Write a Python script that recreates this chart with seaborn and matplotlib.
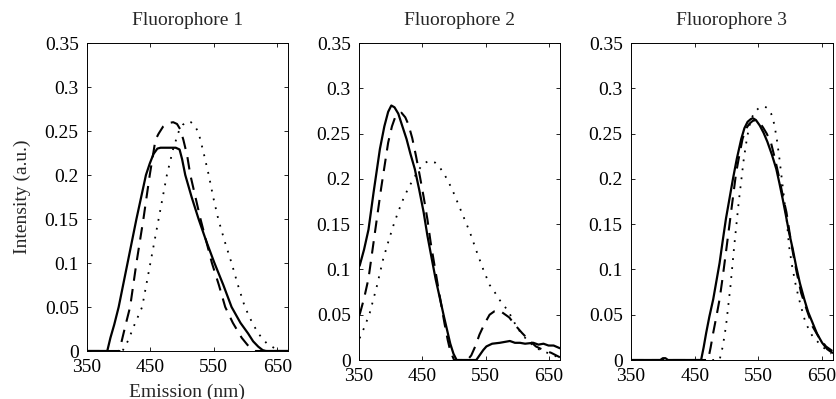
import numpy as np
import matplotlib
matplotlib.use("Agg")
import matplotlib.pyplot as plt
import pandas as pd
import seaborn as sns
from matplotlib.ticker import FuncFormatter

# values (wavelength in nm, intensity in a.u.)
f1_solid_x = [350, 382, 387, 393, 400, 414, 428, 443, 449, 455, 461, 466, 490, 496, 500, 505,
              515, 526, 538, 551, 565, 578, 592, 604, 612, 620, 627, 632, 667]
f1_solid_y = [0, 0, 0.015, 0.03, 0.05, 0.1, 0.15, 0.2, 0.213, 0.224, 0.23, 0.231, 0.231, 0.229,
              0.218, 0.2, 0.175, 0.15, 0.125, 0.1, 0.075, 0.05, 0.032, 0.02, 0.011, 0.005, 0.001, 0, 0]
f1_dash_x = [350, 401, 405, 411, 418, 428, 439, 449, 458, 463, 470, 478, 486, 492, 497, 502,
             508, 513, 521, 529, 538, 547, 558, 568, 580, 594, 603, 610, 615, 667]
f1_dash_y = [0, 0, 0.012, 0.03, 0.05, 0.1, 0.15, 0.2, 0.24, 0.247, 0.255, 0.259, 0.26, 0.258,
             0.252, 0.24, 0.222, 0.2, 0.175, 0.15, 0.125, 0.1, 0.075, 0.05, 0.032, 0.015, 0.007, 0.002, 0, 0]
f1_dot_x = [350, 406, 415, 425, 437, 450, 463, 476, 486, 495, 501, 508, 514, 520, 526, 534,
            542, 549, 557, 567, 578, 588, 599, 610, 620, 633, 646, 651, 667]
f1_dot_y = [0, 0, 0.012, 0.03, 0.05, 0.1, 0.15, 0.2, 0.23, 0.25, 0.257, 0.261, 0.26, 0.256, 0.248,
            0.225, 0.2, 0.175, 0.15, 0.125, 0.1, 0.075, 0.05, 0.033, 0.02, 0.009, 0.003, 0, 0]

f2_solid_x = [351, 358, 365, 373, 383, 390, 396, 401, 406, 412, 418, 425, 431, 438, 445, 452,
              458, 465, 471, 478, 484, 489, 494, 499, 504, 535, 541, 546, 551, 560, 572, 580,
              588, 596, 604, 612, 625, 633, 641, 649, 657, 667]
f2_solid_y = [0.104, 0.122, 0.144, 0.185, 0.233, 0.258, 0.274, 0.281, 0.279, 0.272, 0.259, 0.244,
              0.228, 0.211, 0.188, 0.163, 0.137, 0.111, 0.089, 0.067, 0.048, 0.033, 0.018, 0.007, 0,
              0, 0.006, 0.011, 0.015, 0.018, 0.019, 0.02, 0.021, 0.019, 0.019, 0.018, 0.019, 0.017,
              0.018, 0.016, 0.016, 0.013]
f2_dash_x = [351, 358, 365, 375, 385, 396, 402, 407, 412, 417, 423, 428, 434, 440, 446, 452,
             458, 463, 469, 475, 480, 485, 490, 494, 500, 521, 527, 534, 540, 548, 556, 564,
             571, 579, 587, 597, 607, 618, 629, 641, 653, 667]
f2_dash_y = [0.05, 0.068, 0.09, 0.14, 0.19, 0.24, 0.258, 0.268, 0.272, 0.273, 0.268, 0.26, 0.245,
             0.225, 0.203, 0.18, 0.155, 0.13, 0.105, 0.08, 0.06, 0.04, 0.022, 0.01, 0, 0, 0.005,
             0.016, 0.028, 0.04, 0.05, 0.054, 0.055, 0.051, 0.047, 0.038, 0.03, 0.022, 0.015,
             0.011, 0.008, 0.003]
f2_dot_x = [351, 359, 367, 378, 388, 396, 404, 412, 420, 428, 436, 444, 452, 461, 470, 477,
            483, 491, 499, 512, 525, 536, 546, 556, 564, 571, 579, 587, 600, 615, 630, 643,
            655, 667]
f2_dot_y = [0.024, 0.037, 0.052, 0.081, 0.111, 0.13, 0.148, 0.164, 0.178, 0.19, 0.2, 0.21, 0.217,
            0.22, 0.218, 0.213, 0.207, 0.197, 0.185, 0.163, 0.141, 0.119, 0.1, 0.083, 0.075,
            0.067, 0.06, 0.052, 0.035, 0.022, 0.013, 0.009, 0.006, 0.002]

f3_solid_x = [350, 396, 400, 404, 408, 460, 464, 468, 473, 479, 484, 489, 494, 499, 505, 510,
              516, 523, 528, 533, 538, 541, 546, 552, 558, 564, 571, 578, 583, 588, 593, 598,
              604, 609, 615, 622, 628, 635, 642, 650, 658, 666]
f3_solid_y = [0, 0, 0.002, 0.002, 0, 0, 0.014, 0.03, 0.048, 0.067, 0.087, 0.107, 0.132, 0.156,
              0.18, 0.2, 0.222, 0.244, 0.256, 0.263, 0.266, 0.267, 0.265, 0.259, 0.251, 0.241,
              0.227, 0.211, 0.195, 0.178, 0.16, 0.141, 0.122, 0.104, 0.085, 0.067, 0.053, 0.041,
              0.029, 0.019, 0.012, 0.008]
f3_dash_x = [350, 471, 475, 479, 484, 489, 494, 499, 503, 507, 511, 515, 520, 525, 530, 536,
             541, 546, 551, 557, 563, 570, 576, 583, 588, 594, 599, 604, 610, 617, 626, 635,
             645, 656, 666]
f3_dash_y = [0, 0, 0.014, 0.03, 0.048, 0.067, 0.092, 0.119, 0.141, 0.163, 0.185, 0.207, 0.226,
             0.244, 0.255, 0.261, 0.264, 0.265, 0.263, 0.257, 0.25, 0.239, 0.222, 0.2, 0.182,
             0.163, 0.14, 0.119, 0.097, 0.074, 0.055, 0.037, 0.025, 0.015, 0.01]
f3_dot_x = [350, 489, 494, 499, 506, 512, 519, 527, 532, 536, 540, 544, 552, 557, 562, 566,
            570, 575, 579, 583, 587, 591, 595, 598, 603, 609, 616, 624, 635, 650, 664]
f3_dot_y = [0, 0, 0.015, 0.037, 0.081, 0.126, 0.174, 0.222, 0.245, 0.259, 0.268, 0.274, 0.279,
            0.28, 0.279, 0.277, 0.272, 0.26, 0.243, 0.222, 0.198, 0.174, 0.15, 0.126, 0.103,
            0.081, 0.061, 0.041, 0.026, 0.015, 0.007]

titles = ["Fluorophore 1", "Fluorophore 2", "Fluorophore 3"]
xticks = [350, 450, 550, 650]
yticks = [0, 0.05, 0.1, 0.15, 0.2, 0.25, 0.3, 0.35]

panels = [
    (f1_solid_x, f1_solid_y, f1_dash_x, f1_dash_y, f1_dot_x, f1_dot_y),
    (f2_solid_x, f2_solid_y, f2_dash_x, f2_dash_y, f2_dot_x, f2_dot_y),
    (f3_solid_x, f3_solid_y, f3_dash_x, f3_dash_y, f3_dot_x, f3_dot_y),
]

sns.set_theme(style="ticks")
plt.rcParams["font.family"] = ["Liberation Serif", "DejaVu Serif"]

fig = plt.figure(figsize=(8.37, 3.99), dpi=100)
positions = [
    [0.1039, 0.1203, 0.2402, 0.7719],
    [0.4289, 0.0977, 0.2401, 0.7945],
    [0.7539, 0.0977, 0.2413, 0.7945],
]

styles = ["-", (0, (6, 4)), (0, (1, 4))]
widths = [1.6, 1.5, 1.3]

for i, (pos, data) in enumerate(zip(positions, panels)):
    ax = fig.add_axes(pos)
    for k in range(3):
        df = pd.DataFrame({"x": data[2 * k], "y": data[2 * k + 1]})
        sns.lineplot(data=df, x="x", y="y", ax=ax, color="black", linestyle=styles[k],
                     linewidth=widths[k], sort=False, estimator=None)
    ax.set_xlim(350, 667)
    ax.set_ylim(0, 0.35)
    ax.set_xticks(xticks)
    ax.set_yticks(yticks)
    ax.yaxis.set_major_formatter(FuncFormatter(lambda v, p: "%g" % round(v, 2)))
    ax.tick_params(direction="in", top=True, right=True, length=3, width=0.6,
                   labelsize=14, colors="black")
    ax.tick_params(axis="x", pad=6)
    ax.tick_params(axis="y", pad=6)
    for s in ax.spines.values():
        s.set_linewidth(0.7)
        s.set_color("black")
    ax.set_title(titles[i], fontsize=14, pad=13)
    ax.set_xlabel("")
    ax.set_ylabel("")
    if i == 0:
        ax.set_xlabel("Emission (nm)", fontsize=14, labelpad=5)
        ax.set_ylabel("Intensity (a.u.)", fontsize=14, labelpad=10)

fig.savefig("out.png", dpi=100)
